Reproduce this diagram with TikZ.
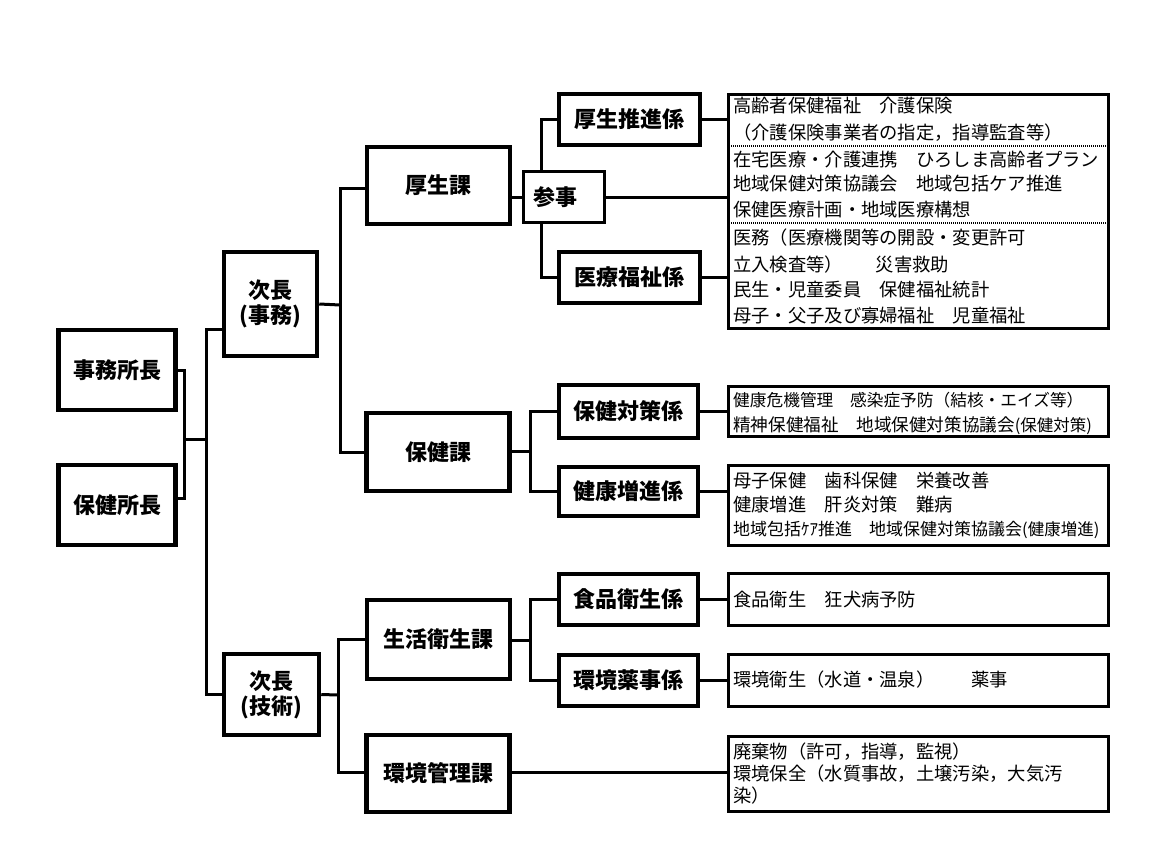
\documentclass[tikz,border=0pt]{standalone}
\usepackage{fontspec}
\setmainfont{Noto Sans CJK JP}
\usetikzlibrary{positioning,calc}
\newcommand{\smallpar}[1]{{\fontsize{16.5}{17}\selectfont #1}}
\tikzset{
  post/.style={draw, line width=4.5pt, align=center, inner sep=0pt,
    font=\fontsize{22}{25}\selectfont\bfseries},
  sanjibox/.style={post, line width=3pt},
  duty/.style={draw, line width=3pt, minimum width=380pt, inner sep=0pt},
  link/.style={line width=3pt},
  item/.style={anchor=west, inner sep=0pt, font=\fontsize{18.3}{18}\selectfont},
  sep/.style={line width=2.5pt, dash pattern=on 1pt off 1pt},
}
\begin{document}
\begin{tikzpicture}[x=1pt, y=-1pt]
\useasboundingbox (0,0) rectangle (1156,851);
% heads
\node[post, minimum width=117pt, minimum height=80pt] (jimu) at (117,370) {事務所長};
\node[post, minimum width=117pt, minimum height=80pt] (hoken) at (117,505) {保健所長};
\node[post, minimum width=93pt, minimum height=104pt] (jicho1) at (270.5,304) {次長\\(事務)};
\node[post, minimum width=95pt, minimum height=81pt] (jicho2) at (271.5,694.5) {次長\\(技術)};
% sections
\node[post, minimum width=143pt, minimum height=77pt] (kosei) at (438.5,185.5) {厚生課};
\node[post, minimum width=143pt, minimum height=78pt] (hokenka) at (438,452) {保健課};
\node[post, minimum width=143pt, minimum height=79pt] (seikatsu) at (438.5,639.5) {生活衛生課};
\node[post, minimum width=143pt, minimum height=77pt] (kankyo) at (438,773.5) {環境管理課};
% units
\node[sanjibox, minimum width=81pt, minimum height=51pt] (sanji) at (564,197) {参事\hspace*{18pt}};
\node[post, minimum width=141pt, minimum height=51pt] (suishin) at (629.5,119.5) {厚生推進係};
\node[post, minimum width=141pt, minimum height=51pt] (iryo) at (629.5,277.5) {医療福祉係};
\node[post, minimum width=139pt, minimum height=53pt] (taisaku) at (628.5,411.5) {保健対策係};
\node[post, minimum width=139pt, minimum height=49pt] (zoshin) at (628.5,491.5) {健康増進係};
\node[post, minimum width=139pt, minimum height=51pt] (shokuhin) at (628.5,599.5) {食品衛生係};
\node[post, minimum width=139pt, minimum height=51pt] (yakuji) at (628.5,680.5) {環境薬事係};
% duty boxes
\node[duty, minimum height=234pt] (dutyK) at (918.5,211.5) {};
\node[duty, minimum height=50pt] (dutyT) at (918.5,411.5) {};
\node[duty, minimum height=80pt] (dutyZ) at (918.5,505.5) {};
\node[duty, minimum height=52pt] (dutyS) at (918.5,599.5) {};
\node[duty, minimum height=52pt] (dutyY) at (918.5,680.5) {};
\node[duty, minimum height=75pt] (dutyM) at (918.5,774) {};
\coordinate (s1) at (0,146);
\coordinate (s2) at (0,223);
\draw[sep] (dutyK.west |- s1) -- (dutyK.east |- s1);
\draw[sep] (dutyK.west |- s2) -- (dutyK.east |- s2);
% duty texts
\foreach \y/\t [count=\i] in {106/{高齢者保健福祉　介護保険},
    133/{（介護保険事業者の指定，指導監査等）},
    160/{在宅医療・介護連携　ひろしま高齢者プラン},
    184/{地域保健対策協議会　地域包括ケア推進},
    210/{保健医療計画・地域医療構想},
    238/{医務（医療機関等の開設・変更許可},
    265/{立入検査等）\hspace{0.8em}　災害救助},
    290/{民生・児童委員　保健福祉統計},
    316/{母子・父子及び寡婦福祉　児童福祉}}
  \node[item] (k\i) at (733,\y) {\t};
\node[item, font=\fontsize{16.7}{17}\selectfont] (t1) at (733,400) {健康危機管理　感染症予防（結核・エイズ等）};
\node[item, font=\fontsize{17.6}{18}\selectfont] (t2) at (733,426) {精神保健福祉　地域保健対策協議会\smallpar{(保健対策)}};
\node[item] (z1) at (733,481) {母子保健　歯科保健　栄養改善};
\node[item] (z2) at (733,505) {健康増進　肝炎対策　難病};
\node[item, font=\fontsize{17}{17}\selectfont] (z3) at (733,530) {地域包括ｹｱ推進　地域保健対策協議会\smallpar{(健康増進)}};
\node[item] (f1) at (733,600) {食品衛生　狂犬病予防};
\node[item] (y1) at (733,680) {環境衛生（水道・温泉）　　薬事};
\node[item] (m1) at (733,752) {廃棄物（許可，指導，監視）};
\node[item] (m2) at (733,774) {環境保全（水質事故，土壌汚染，大気汚};
\node[item] (m3) at (733,796) {染）};
% connectors
\coordinate (b1) at (184,439);
\coordinate (b2) at (206,439);
\draw[link] (jimu.east) -| (b1) |- ([yshift=7pt]hoken.east);
\draw[link] (b1) -- (b2);
\draw[link] ([yshift=-25pt]jicho1.west) -| (b2) |- (jicho2.west);
\coordinate (b3) at (340,305);
\draw[link] (jicho1.east) -- (b3);
\draw[link] ([yshift=-3pt]kosei.west) -| (b3) |- (hokenka.west);
\coordinate (b4) at (338,695);
\draw[link] (jicho2.east) -- (b4);
\draw[link] (seikatsu.west) -| (b4) |- ([yshift=1pt]kankyo.west);
\draw[link] (kosei.east |- sanji.west) -- (sanji.west);
\draw[link] ([xshift=-23pt]sanji.north) |- (suishin.west);
\draw[link] ([xshift=-23pt]sanji.south) |- (iryo.west);
\draw[link] (sanji.east) -- (sanji.east -| dutyK.west);
\draw[link] (suishin.east) -- (suishin.east -| dutyK.west);
\draw[link] (iryo.east) -- (iryo.east -| dutyK.west);
\coordinate (b5) at (530,451);
\draw[link] (hokenka.east |- b5) -- (b5);
\draw[link] (taisaku.west) -| (b5) |- (zoshin.west);
\draw[link] (taisaku.east) -- (dutyT.west);
\draw[link] (zoshin.east) -- (zoshin.east -| dutyZ.west);
\coordinate (b6) at (530,640);
\draw[link] (seikatsu.east |- b6) -- (b6);
\draw[link] (shokuhin.west) -| (b6) |- (yakuji.west);
\draw[link] (shokuhin.east) -- (dutyS.west);
\draw[link] (yakuji.east) -- (dutyY.west);
\draw[link] ([yshift=1pt]kankyo.east) -- ([yshift=1pt]kankyo.east -| dutyM.west);
\end{tikzpicture}
\end{document}
